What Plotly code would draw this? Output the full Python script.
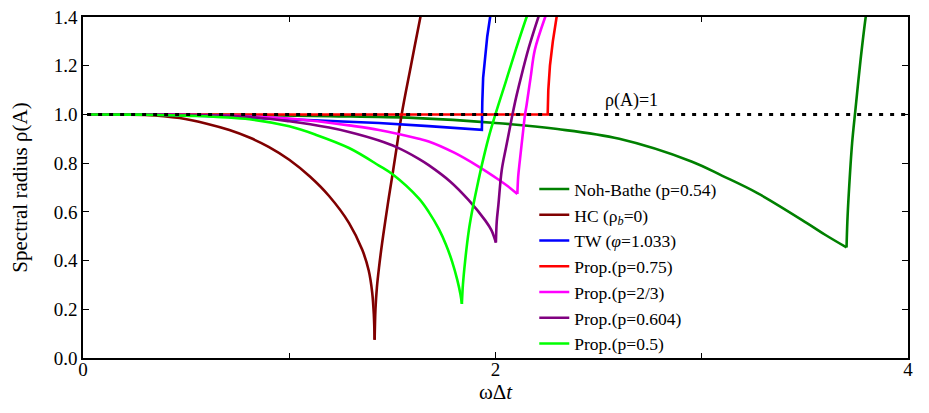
import numpy as np
import plotly.graph_objects as go

# ---- data ----
nb_x = [0.02, 0.4, 0.8, 1.2, 1.6, 2.0, 2.3, 2.6, 2.95, 3.1, 3.27, 3.51, 3.6, 3.702, 3.706, 3.713, 3.729, 3.745, 3.77, 3.795, 3.81]
nb_y = [1.0, 1.0, 0.997, 0.993, 0.986, 0.965, 0.94, 0.90, 0.807, 0.748, 0.677, 0.554, 0.505, 0.454, 0.56, 0.677, 0.882, 1.019, 1.224, 1.40, 1.48]

hc_x = [0.02, 0.3, 0.469, 0.6, 0.71, 0.807, 0.9, 1.0, 1.1, 1.193, 1.29, 1.354, 1.385, 1.402, 1.41, 1.414,
        1.418, 1.425, 1.435, 1.45, 1.467, 1.483, 1.5, 1.52, 1.545, 1.59, 1.636, 1.66]
hc_y = [1.0, 0.998, 0.985, 0.962, 0.936, 0.905, 0.867, 0.814, 0.745, 0.665, 0.554, 0.444, 0.36, 0.27, 0.18, 0.075,
        0.2, 0.29, 0.37, 0.47, 0.57, 0.66, 0.75, 0.86, 1.0, 1.2, 1.4, 1.5]

tw_x = [0.02, 0.3, 0.6, 0.807, 1.0, 1.193, 1.435, 1.676, 1.934, 1.936, 1.94, 1.947, 1.96, 1.974, 1.98]
tw_y = [1.0, 1.0, 0.994, 0.987, 0.981, 0.975, 0.965, 0.952, 0.937, 1.05, 1.15, 1.21, 1.32, 1.4, 1.44]

r_x = [0.02, 1.0, 2.253, 2.256, 2.264, 2.278, 2.296, 2.30]
r_y = [1.0, 1.0, 1.0, 1.1, 1.2, 1.3, 1.4, 1.42]

m_x = [0.02, 0.4, 0.807, 1.0, 1.193, 1.29, 1.435, 1.628, 1.676, 1.8, 1.918, 2.014, 2.06, 2.106,
       2.11, 2.118, 2.135, 2.143, 2.151, 2.17, 2.191, 2.241, 2.25]
m_y = [1.0, 0.999, 0.992, 0.983, 0.966, 0.955, 0.936, 0.900, 0.889, 0.843, 0.786, 0.733, 0.705, 0.673,
       0.745, 0.81, 0.94, 0.999, 1.04, 1.15, 1.266, 1.4, 1.42]

p_x = [0.02, 0.4, 0.807, 1.0, 1.193, 1.29, 1.435, 1.52, 1.628, 1.676, 1.78, 1.87, 1.95, 1.98, 2.002,
       2.006, 2.014, 2.03, 2.05, 2.065, 2.08, 2.1, 2.12, 2.16, 2.208, 2.22]
p_y = [1.0, 0.999, 0.990, 0.972, 0.946, 0.928, 0.893, 0.866, 0.818, 0.792, 0.725, 0.648, 0.565, 0.525, 0.474,
       0.56, 0.629, 0.77, 0.86, 0.925, 0.99, 1.07, 1.14, 1.27, 1.4, 1.43]

g_x = [0.02, 0.3, 0.5, 0.807, 1.0, 1.127, 1.29, 1.435, 1.504, 1.628, 1.676, 1.725, 1.76, 1.79, 1.815, 1.83, 1.837,
       1.842, 1.853, 1.87, 1.886, 1.91, 1.934, 1.965, 1.999, 2.05, 2.1, 2.151, 2.16]
g_y = [1.0, 0.999, 0.995, 0.98, 0.951, 0.917, 0.862, 0.79, 0.752, 0.655, 0.60, 0.53, 0.465, 0.395, 0.32, 0.262, 0.222,
       0.30, 0.40, 0.52, 0.60, 0.70, 0.793, 0.90, 0.999, 1.135, 1.27, 1.4, 1.42]

ref_x = [0.02, 4.0]
ref_y = [1.0, 1.0]

FONT = "Times New Roman, Liberation Serif, Nimbus Roman, DejaVu Serif, serif"

series = [
    ("Noh-Bathe (p=0.54)", nb_x, nb_y, "#008000", True),
    ("HC (ρ<sub><i>b</i></sub>=0)", hc_x, hc_y, "#800000", True),
    ("TW (<i>φ</i>=1.033)", tw_x, tw_y, "#0000FF", False),
    ("Prop.(p=0.75)", r_x, r_y, "#FF0000", False),
    ("Prop.(p=2/3)", m_x, m_y, "#FF00FF", True),
    ("Prop.(p=0.604)", p_x, p_y, "#800080", True),
    ("Prop.(p=0.5)", g_x, g_y, "#00FF00", True),
]

fig = go.Figure()
for rank, (name, xs, ys, col, cusp) in enumerate(series):
    if cusp:
        k = int(np.argmin(ys))
        parts = [(xs[:k + 1], ys[:k + 1]), (xs[k:], ys[k:])]
        for j, (px_, py_) in enumerate(parts):
            fig.add_trace(go.Scatter(x=px_, y=py_, mode="lines", name=name, legendgroup=name,
                                     showlegend=(j == 0), legendrank=rank + 1,
                                     line=dict(color=col, width=2.6, shape="spline", smoothing=1.0)))
    else:
        fig.add_trace(go.Scatter(x=xs, y=ys, mode="lines", name=name, legendgroup=name,
                                 legendrank=rank + 1, line=dict(color=col, width=2.6)))

fig.add_trace(go.Scatter(x=ref_x, y=ref_y, mode="lines", showlegend=False,
                         line=dict(color="black", width=3, dash="4px,7px")))

fig.add_annotation(x=2.66, y=1.056, text="ρ(A)=1", showarrow=False,
                   font=dict(family=FONT, size=18, color="black"))

axis_common = dict(showgrid=False, zeroline=False, showline=True, linecolor="black", linewidth=1.5,
                   mirror="ticks", ticks="inside", ticklen=6, tickcolor="black", tickwidth=1.2,
                   automargin=False,
                   tickfont=dict(family=FONT, size=19, color="black"))

fig.update_xaxes(range=[0, 4], tickvals=[0, 2, 4], ticktext=["0", "2", "4"],
                 minor=dict(tickvals=[1, 3], ticks="inside", ticklen=5, tickcolor="black", tickwidth=1.2),
                 ticklabelstandoff=-7,
                 title=dict(text="ωΔ<i>t</i>", font=dict(family=FONT, size=21, color="black"), standoff=2),
                 **axis_common)
fig.update_yaxes(range=[0, 1.4], tickvals=[0, 0.2, 0.4, 0.6, 0.8, 1.0, 1.2, 1.4],
                 ticktext=["0.0", "0.2", "0.4", "0.6", "0.8", "1.0", "1.2", "1.4"],
                 title=dict(text="Spectral radius ρ(A)", font=dict(family=FONT, size=21, color="black"), standoff=20),
                 **axis_common)

fig.update_layout(
    width=929, height=413,
    margin=dict(l=83, r=21, t=17, b=55),
    paper_bgcolor="white", plot_bgcolor="white",
    font=dict(family=FONT, color="black"),
    legend=dict(x=0.547, y=0.548, xanchor="left", yanchor="top", bgcolor="rgba(0,0,0,0)",
                font=dict(family=FONT, size=17.5, color="black"), tracegroupgap=0, itemwidth=30),
)

fig.write_html("out.html", config={"displayModeBar": False},
               post_script="document.body.style.margin='0';document.body.style.overflow='hidden';")
